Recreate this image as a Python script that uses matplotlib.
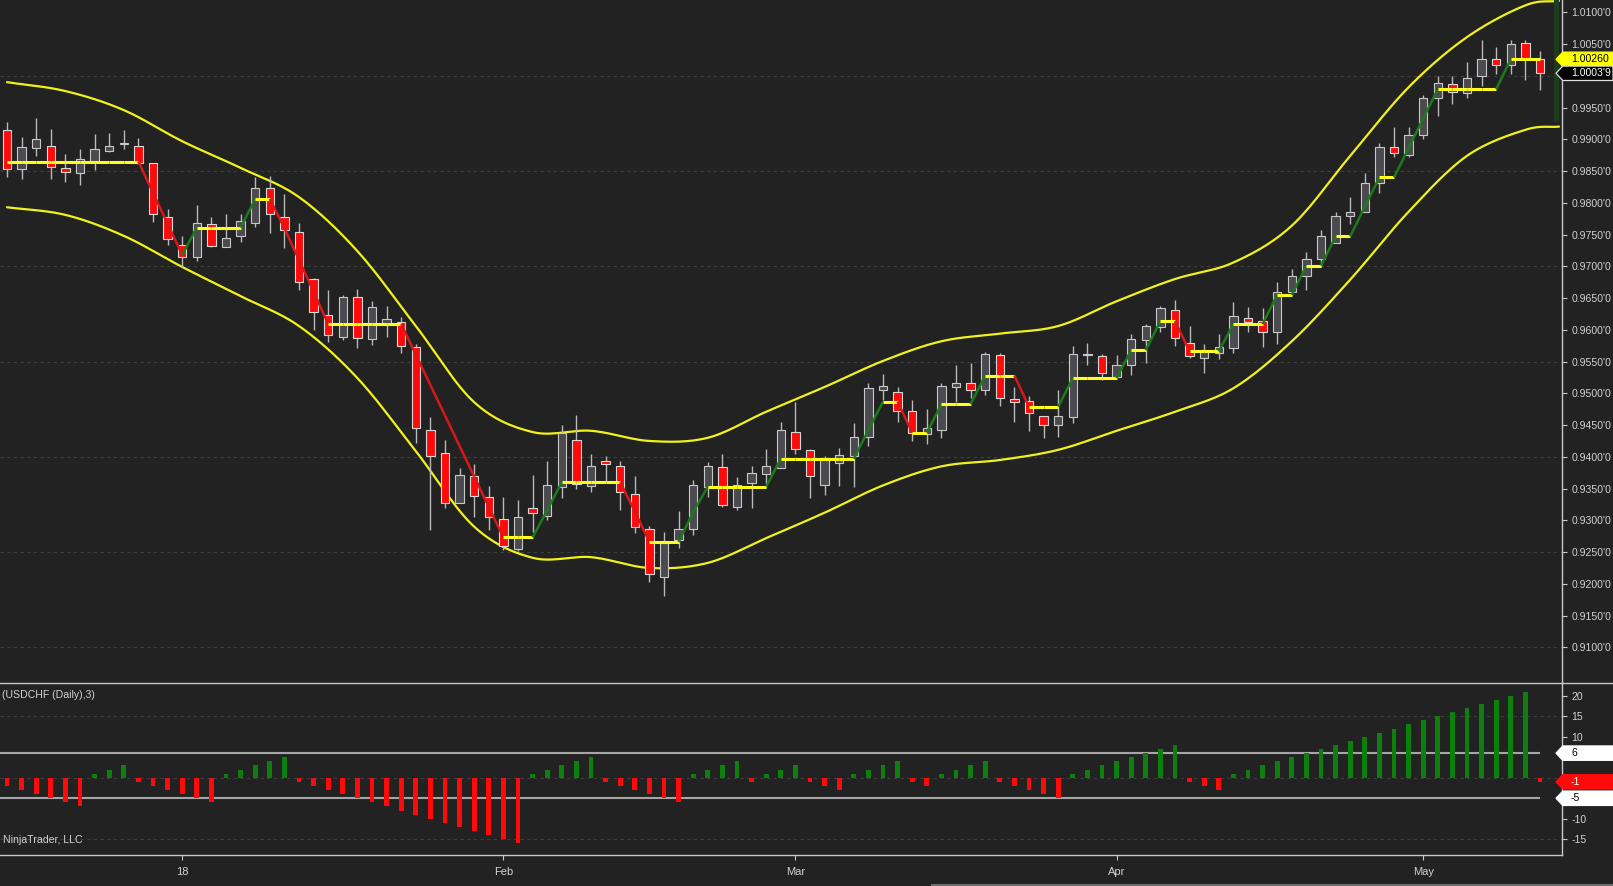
import numpy as np
import matplotlib
matplotlib.use("Agg")
import matplotlib.pyplot as plt
from matplotlib.collections import LineCollection
from matplotlib.patches import Polygon, Rectangle
from matplotlib.lines import Line2D
from matplotlib.transforms import blended_transform_factory

plt.rcParams['font.family'] = ['Liberation Sans', 'DejaVu Sans']

# USDCHF daily candles, bar 0 = mid Dec 2017, bar 105 = 11 May 2018
opens = [0.9914, 0.9853, 0.9887, 0.9890, 0.9855, 0.9847, 0.9866, 0.9881, 0.9893, 0.9890,
         0.9862, 0.9778, 0.9733, 0.9714, 0.9766, 0.9731, 0.9748, 0.9768, 0.9824, 0.9777,
         0.9754, 0.9680, 0.9624, 0.9589, 0.9651, 0.9585, 0.9607, 0.9613, 0.9573, 0.9443,
         0.9406, 0.9327, 0.9370, 0.9337, 0.9302, 0.9255, 0.9319, 0.9307, 0.9352, 0.9426,
         0.9354, 0.9393, 0.9386, 0.9342, 0.9287, 0.9211, 0.9269, 0.9286, 0.9352, 0.9384,
         0.9321, 0.9358, 0.9373, 0.9382, 0.9439, 0.9410, 0.9355, 0.9391, 0.9401, 0.9431,
         0.9506, 0.9502, 0.9472, 0.9436, 0.9443, 0.9510, 0.9517, 0.9506, 0.9560, 0.9491,
         0.9488, 0.9464, 0.9450, 0.9462, 0.9560, 0.9559, 0.9526, 0.9544, 0.9584, 0.9605,
         0.9631, 0.9580, 0.9555, 0.9563, 0.9571, 0.9618, 0.9614, 0.9596, 0.9659, 0.9684,
         0.9711, 0.9737, 0.9779, 0.9786, 0.9831, 0.9888, 0.9876, 0.9907, 0.9965, 0.9987,
         0.9973, 1.0000, 1.0026, 1.0017, 1.0051, 1.0026]
highs = [0.9928, 0.9903, 0.9933, 0.9916, 0.9877, 0.9884, 0.9908, 0.9910, 0.9915, 0.9902,
         0.9863, 0.9791, 0.9747, 0.9796, 0.9777, 0.9782, 0.9782, 0.9840, 0.9843, 0.9814,
         0.9768, 0.9681, 0.9663, 0.9655, 0.9664, 0.9645, 0.9638, 0.9620, 0.9578, 0.9462,
         0.9427, 0.9382, 0.9389, 0.9354, 0.9336, 0.9332, 0.9371, 0.9393, 0.9450, 0.9466,
         0.9404, 0.9401, 0.9394, 0.9370, 0.9291, 0.9282, 0.9315, 0.9363, 0.9392, 0.9404,
         0.9369, 0.9386, 0.9413, 0.9455, 0.9487, 0.9413, 0.9402, 0.9414, 0.9454, 0.9517,
         0.9530, 0.9510, 0.9490, 0.9475, 0.9517, 0.9544, 0.9548, 0.9565, 0.9563, 0.9510,
         0.9495, 0.9464, 0.9505, 0.9575, 0.9579, 0.9562, 0.9560, 0.9593, 0.9609, 0.9638,
         0.9647, 0.9606, 0.9578, 0.9593, 0.9644, 0.9636, 0.9634, 0.9675, 0.9696, 0.9722,
         0.9757, 0.9785, 0.9809, 0.9847, 0.9894, 0.9919, 0.9919, 0.9970, 1.0000, 1.0000,
         1.0022, 1.0056, 1.0046, 1.0056, 1.0056, 1.0039]
lows = [0.9841, 0.9838, 0.9873, 0.9838, 0.9833, 0.9828, 0.9852, 0.9880, 0.9885, 0.9861,
        0.9770, 0.9733, 0.9699, 0.9709, 0.9731, 0.9730, 0.9739, 0.9762, 0.9753, 0.9729,
        0.9662, 0.9600, 0.9581, 0.9584, 0.9571, 0.9576, 0.9589, 0.9564, 0.9422, 0.9284,
        0.9319, 0.9327, 0.9305, 0.9284, 0.9253, 0.9251, 0.9282, 0.9301, 0.9335, 0.9350,
        0.9344, 0.9362, 0.9316, 0.9280, 0.9203, 0.9181, 0.9257, 0.9277, 0.9337, 0.9321,
        0.9316, 0.9320, 0.9352, 0.9382, 0.9404, 0.9335, 0.9340, 0.9354, 0.9353, 0.9417,
        0.9490, 0.9455, 0.9425, 0.9420, 0.9429, 0.9486, 0.9492, 0.9497, 0.9480, 0.9455,
        0.9441, 0.9429, 0.9431, 0.9454, 0.9544, 0.9521, 0.9526, 0.9529, 0.9548, 0.9596,
        0.9575, 0.9556, 0.9532, 0.9554, 0.9564, 0.9597, 0.9573, 0.9578, 0.9655, 0.9663,
        0.9699, 0.9737, 0.9767, 0.9786, 0.9815, 0.9872, 0.9872, 0.9901, 0.9936, 0.9956,
        0.9965, 0.9984, 1.0003, 1.0003, 0.9993, 0.9977]
closes = [0.9853, 0.9888, 0.9900, 0.9856, 0.9848, 0.9869, 0.9884, 0.9890, 0.9894, 0.9862,
          0.9782, 0.9743, 0.9714, 0.9769, 0.9732, 0.9744, 0.9771, 0.9823, 0.9782, 0.9757,
          0.9675, 0.9628, 0.9592, 0.9651, 0.9587, 0.9636, 0.9617, 0.9575, 0.9445, 0.9402,
          0.9328, 0.9371, 0.9338, 0.9305, 0.9259, 0.9305, 0.9311, 0.9355, 0.9437, 0.9357,
          0.9386, 0.9388, 0.9345, 0.9289, 0.9215, 0.9265, 0.9286, 0.9355, 0.9386, 0.9324,
          0.9355, 0.9375, 0.9385, 0.9442, 0.9412, 0.9370, 0.9395, 0.9403, 0.9431, 0.9508,
          0.9511, 0.9472, 0.9438, 0.9445, 0.9511, 0.9516, 0.9506, 0.9562, 0.9492, 0.9487,
          0.9469, 0.9450, 0.9464, 0.9562, 0.9562, 0.9532, 0.9545, 0.9585, 0.9606, 0.9634,
          0.9587, 0.9559, 0.9566, 0.9573, 0.9621, 0.9613, 0.9597, 0.9659, 0.9684, 0.9711,
          0.9747, 0.9780, 0.9786, 0.9831, 0.9888, 0.9878, 0.9907, 0.9965, 0.9988, 0.9975,
          0.9996, 1.0026, 1.0017, 1.0050, 1.0028, 1.0004]

# step trend line (yellow flat, green up, red down)
step_line = [0.9865, 0.9865, 0.9865, 0.9865, 0.9865, 0.9865, 0.9865, 0.9865, 0.9865, 0.9865,
             0.9816, 0.9767, 0.9718, 0.9761, 0.9761, 0.9761, 0.9761, 0.9806, 0.9806, 0.9760,
             0.9710, 0.9660, 0.9609, 0.9609, 0.9609, 0.9609, 0.9609, 0.9609, 0.9561, 0.9513,
             0.9465, 0.9417, 0.9369, 0.9321, 0.9273, 0.9273, 0.9273, 0.9316, 0.9360, 0.9360,
             0.9360, 0.9360, 0.9360, 0.9314, 0.9266, 0.9266, 0.9266, 0.9313, 0.9353, 0.9353,
             0.9353, 0.9353, 0.9353, 0.9397, 0.9397, 0.9397, 0.9397, 0.9397, 0.9397, 0.9442,
             0.9487, 0.9487, 0.9438, 0.9438, 0.9483, 0.9483, 0.9483, 0.9528, 0.9528, 0.9528,
             0.9479, 0.9479, 0.9479, 0.9524, 0.9524, 0.9524, 0.9524, 0.9568, 0.9568, 0.9614,
             0.9614, 0.9566, 0.9566, 0.9566, 0.9609, 0.9609, 0.9609, 0.9655, 0.9655, 0.9701,
             0.9701, 0.9747, 0.9747, 0.9794, 0.9840, 0.9840, 0.9886, 0.9933, 0.9979, 0.9979,
             0.9979, 0.9979, 0.9979, 1.0026, 1.0026, 1.0026]

# envelope bands, read every 4 bars (they run on past the last candle)
band_idx = [0, 4, 8, 12, 16, 20, 24, 28, 32, 36, 40, 44, 48, 52, 56, 60, 64, 68, 72, 76,
            80, 84, 88, 92, 96, 100, 104, 106.3]
band_upper = [0.9990, 0.9976, 0.9946, 0.9897, 0.9855, 0.9809, 0.9724, 0.9606, 0.9486, 0.9439,
              0.9441, 0.9425, 0.9430, 0.9471, 0.9510, 0.9551, 0.9582, 0.9594, 0.9606, 0.9645,
              0.9680, 0.9706, 0.9764, 0.9874, 0.9982, 1.0061, 1.0111, 1.0118]
band_lower = [0.9793, 0.9781, 0.9748, 0.9699, 0.9653, 0.9606, 0.9524, 0.9409, 0.9290, 0.9241,
              0.9242, 0.9225, 0.9233, 0.9272, 0.9312, 0.9355, 0.9385, 0.9395, 0.9411, 0.9441,
              0.9471, 0.9508, 0.9582, 0.9679, 0.9786, 0.9874, 0.9915, 0.9920]

# consecutive up / down counter in the lower panel
counter = [-2, -3, -4, -5, -6, -7, 1, 2, 3, -1, -2, -3, -4, -5, -6, 1, 2, 3, 4, 5,
           -1, -2, -3, -4, -5, -6, -7, -8, -9, -10, -11, -12, -13, -14, -15, -16,
           1, 2, 3, 4, 5, -1, -2, -3, -4, -5, -6, 1, 2, 3, 4, -1, 1, 2, 3, -1, -2, -3,
           1, 2, 3, 4, -1, -2, 1, 2, 3, 4, -1, -2, -3, -4, -5, 1, 2, 3, 4, 5, 6, 7, 8,
           -1, -2, -3, 1, 2, 3, 4, 5, 6, 7, 8, 9, 10, 11, 12, 13, 14, 15, 16, 17, 18,
           19, 20, 21, -1]
counter_levels = [6, -5]

date_ticks = [12, 34, 54, 76, 97]
date_labels = ["18", "Feb", "Mar", "Apr", "May"]
price_grid = [1.0, 0.985, 0.97, 0.955, 0.94, 0.925, 0.91]
price_ticks = [1.01, 1.005, 0.995, 0.99, 0.985, 0.98, 0.975, 0.97, 0.965, 0.96, 0.955,
               0.95, 0.945, 0.94, 0.935, 0.93, 0.925, 0.92, 0.915, 0.91]
counter_ticks = [20, 15, 10, -10, -15]
step_last = 1.0026
strip_low = 0.9928

BG = '#222222'
FG = '#d2d2d2'
AXC = '#c8c8c8'
GRID = '#3e3e3e'

W, H = 1613, 886
fig = plt.figure(figsize=(W / 100, H / 100), dpi=100, facecolor=BG)
ax = fig.add_axes([0, 1 - 682 / H, 1562 / W, 682 / H], facecolor=BG)
axi = fig.add_axes([0, 1 - 855 / H, 1562 / W, 173 / H], facecolor=BG)

x = np.arange(len(closes))
xlim = (-7 / 14.6, (1562 - 7) / 14.6)


def catmull(xs, ys, n=16):
    xs = np.asarray(xs, float)
    ys = np.asarray(ys, float)
    px = np.concatenate([[2 * xs[0] - xs[1]], xs, [2 * xs[-1] - xs[-2]]])
    py = np.concatenate([[2 * ys[0] - ys[1]], ys, [2 * ys[-1] - ys[-2]]])
    ox, oy = [], []
    t = np.linspace(0, 1, n, endpoint=False)
    for k in range(1, len(px) - 2):
        for p, out in ((px, ox), (py, oy)):
            p0, p1, p2, p3 = p[k - 1], p[k], p[k + 1], p[k + 2]
            out.extend(0.5 * (2 * p1 + (-p0 + p2) * t + (2 * p0 - 5 * p1 + 4 * p2 - p3) * t ** 2
                              + (-p0 + 3 * p1 - 3 * p2 + p3) * t ** 3))
    ox.append(xs[-1])
    oy.append(ys[-1])
    return ox, oy


# ---------------- price panel ----------------
ax.set_xlim(*xlim)
ax.set_ylim(0.90454, 1.01194)
for g in price_grid:
    ax.axhline(g, color=GRID, lw=0.8, ls=(0, (3, 3)), zorder=0)

for band in (band_upper, band_lower):
    bx, by = catmull(band_idx, band)
    ax.plot(bx, by, color='#f2f21a', lw=1.6, zorder=1, solid_capstyle='round')

ax.vlines(x, lows, highs, color='#b9b9b9', lw=1.0, zorder=2)
o = np.array(opens)
c = np.array(closes)
up = c >= o
bottoms = np.minimum(o, c)
heights = np.maximum(np.abs(c - o), 0.00016)
ax.bar(x[up], heights[up], bottom=bottoms[up], width=0.57, color='#4a4a4f',
       edgecolor='#c8c8c8', linewidth=0.8, zorder=3)
ax.bar(x[~up], heights[~up], bottom=bottoms[~up], width=0.57, color='#ff0a0a',
       edgecolor='#d8d8d8', linewidth=0.8, zorder=3)

segs, cols, lws = [], [], []
for i in range(1, len(step_line)):
    a, b = step_line[i - 1], step_line[i]
    segs.append([(i - 1, a), (i, b)])
    if b > a:
        cols.append('#1c7a1c'); lws.append(1.8)
    elif b < a:
        cols.append('#d81818'); lws.append(1.8)
    else:
        cols.append('#ffff1e'); lws.append(2.2)
ax.add_collection(LineCollection(segs, colors=cols, linewidths=lws, zorder=4))

ax.add_patch(Rectangle((105.96, strip_low), 0.36, 1.01194 - strip_low,
                       color='#1d3b1d', lw=0, zorder=1))

ax.set_xticks([])
ax.set_yticks(price_ticks)
ax.set_yticklabels([f"{v:.4f}'0" for v in price_ticks])
ax.yaxis.tick_right()
ax.tick_params(axis='y', length=3.6, width=0.8, color=AXC, labelcolor=FG,
               labelsize=7.6, pad=3.2)
for s in ('left', 'top', 'bottom'):
    ax.spines[s].set_visible(False)
ax.spines['right'].set_color(AXC)
ax.spines['right'].set_linewidth(1.0)


def flag(a, yval, label, face, tcol, edge):
    lo, hi = a.get_ylim()
    pix = a.get_position().height * H
    hh = 7.2 * (hi - lo) / pix
    tr = blended_transform_factory(a.transAxes, a.transData)
    x0 = 1556 / 1562
    x1 = 1.0
    x2 = 1613 / 1562
    poly = Polygon([(x0, yval), (x1 + 0.0005, yval + hh), (x2, yval + hh),
                    (x2, yval - hh), (x1 + 0.0005, yval - hh)], closed=True,
                   transform=tr, facecolor=face, edgecolor=edge, lw=0.9,
                   clip_on=False, zorder=6)
    a.add_patch(poly)
    a.text(1571 / 1562, yval, label, transform=tr, color=tcol, fontsize=7.6,
           va='center', ha='left', clip_on=False, zorder=7)


flag(ax, step_last, f"{step_last:.5f}", '#ffff00', '#000000', '#ffff00')
flag(ax, closes[-1], "1.0003'9", '#000000', '#ffffff', '#e0e0e0')

# ---------------- counter panel ----------------
axi.set_xlim(*xlim)
axi.set_ylim(-18.83, 23.34)
for g in (15, 0, -15):
    axi.axhline(g, color=GRID, lw=0.8, ls=(0, (3, 3)), zorder=0)
axi.hlines(counter_levels, xlim[0], len(counter) - 1, color='#a6a6a6', lw=1.5, zorder=1)
cv = np.array(counter)
axi.bar(x, cv, width=0.34, color=np.where(cv > 0, '#0c7f0c', '#ff0a0a'), zorder=2)

axi.set_yticks(counter_ticks)
axi.set_yticklabels([str(v) for v in counter_ticks])
axi.yaxis.tick_right()
axi.tick_params(axis='y', length=3.6, width=0.8, color=AXC, labelcolor=FG,
                labelsize=7.6, pad=3.2)
axi.set_xticks(date_ticks)
axi.set_xticklabels(date_labels)
axi.tick_params(axis='x', length=3.6, width=0.8, color=AXC, labelcolor=FG,
                labelsize=8, pad=5)
for s in ('left', 'top'):
    axi.spines[s].set_visible(False)
for s in ('right', 'bottom'):
    axi.spines[s].set_color(AXC)
    axi.spines[s].set_linewidth(1.0)

flag(axi, counter_levels[0], str(counter_levels[0]), '#ffffff', '#000000', '#ffffff')
flag(axi, counter[-1], str(counter[-1]), '#ff0a0a', '#ffffff', '#ff0a0a')
flag(axi, counter_levels[1], str(counter_levels[1]), '#ffffff', '#000000', '#ffffff')

axi.text(2 / 1562, (855 - 694.5) / 173, "(USDCHF (Daily),3)", transform=axi.transAxes,
         color=FG, fontsize=7.6, va='center', ha='left')
axi.text(3 / 1562, (855 - 840) / 173, "NinjaTrader, LLC", transform=axi.transAxes,
         color=FG, fontsize=7.6, va='center', ha='left')

# panel separator and scroll bar
fig.add_artist(Line2D([0, 1], [1 - 682.5 / H, 1 - 682.5 / H], transform=fig.transFigure,
                      color=AXC, lw=1.0))
fig.add_artist(Line2D([932 / W, 1], [1 - 885 / H, 1 - 885 / H], transform=fig.transFigure,
                      color='#6e6e6e', lw=1.5))

fig.savefig("out.png", dpi=100, facecolor=BG)
